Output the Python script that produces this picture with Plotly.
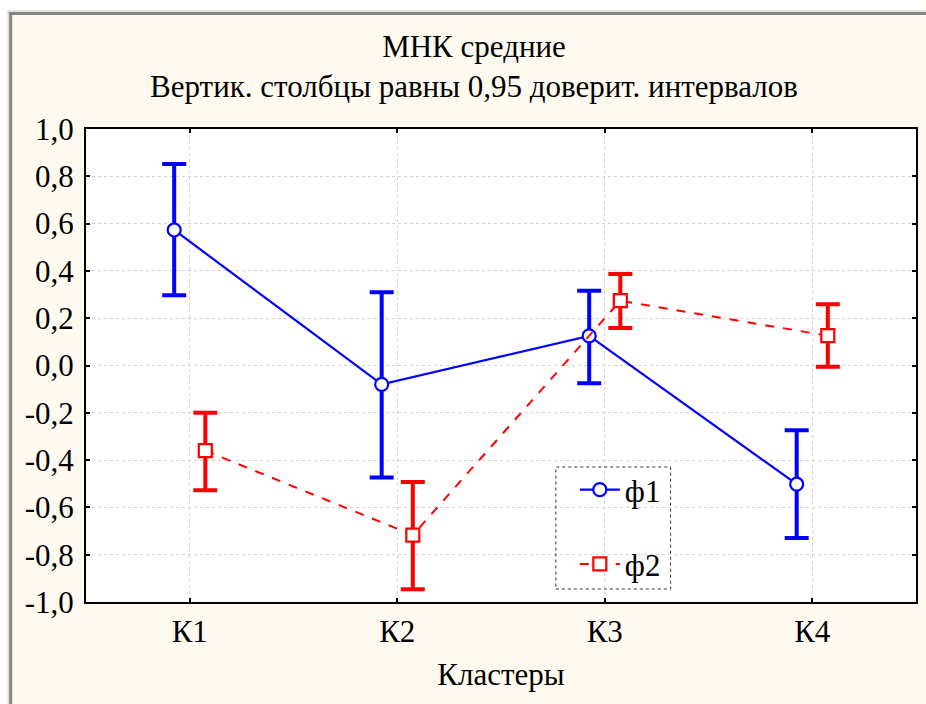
import plotly.graph_objects as go

# ---- data ----
categories = ["К1", "К2", "К3", "К4"]
series_names = ["ф1", "ф2"]

f1_mean = [0.573, -0.080, 0.125, -0.502]
f1_upper = [0.852, 0.310, 0.316, -0.274]
f1_lower = [0.297, -0.474, -0.075, -0.729]

f2_mean = [-0.360, -0.717, 0.274, 0.126]
f2_upper = [-0.200, -0.493, 0.387, 0.259]
f2_lower = [-0.527, -0.946, 0.159, -0.005]

y_tickvals = [-1.0, -0.8, -0.6, -0.4, -0.2, 0.0, 0.2, 0.4, 0.6, 0.8, 1.0]
y_ticktext = ["-1,0", "-0,8", "-0,6", "-0,4", "-0,2", "0,0", "0,2", "0,4", "0,6", "0,8", "1,0"]

title_lines = ["МНК средние", "Вертик. столбцы равны 0,95 доверит. интервалов"]
x_title = "Кластеры"

# ---- layout constants ----
W, H = 926, 704
ML, MR, MT, MB = 86, 8, 129, 102
PW, PH = W - ML - MR, H - MT - MB
OFFSET = 0.075
FONT = "'Liberation Serif', 'Times New Roman', 'DejaVu Serif', serif"
FS = 31
BLUE, RED = "#0000FF", "#FF0000"
CREAM = "#FFFAF0"


def px_x(px):
    return (px - ML) / PW


def px_y(py):
    return (H - MB - py) / PH


pos = list(range(1, len(categories) + 1))

fig = go.Figure()

fig.add_trace(go.Scatter(
    x=[p - OFFSET for p in pos], y=f1_mean, name=series_names[0],
    mode="lines+markers", legendgroup="a",
    line=dict(color=BLUE, width=2.2),
    marker=dict(symbol="circle", size=13, color="white", line=dict(color=BLUE, width=2.2)),
    error_y=dict(type="data", symmetric=False,
                 array=[u - m for u, m in zip(f1_upper, f1_mean)],
                 arrayminus=[m - l for m, l in zip(f1_mean, f1_lower)],
                 color=BLUE, thickness=4, width=12),
))

fig.add_trace(go.Scatter(
    x=[p + OFFSET for p in pos], y=f2_mean, name=series_names[1],
    mode="lines+markers", legendgroup="b",
    line=dict(color=RED, width=2, dash="dash"),
    marker=dict(symbol="square", size=13, color="white", line=dict(color=RED, width=2.2)),
    error_y=dict(type="data", symmetric=False,
                 array=[u - m for u, m in zip(f2_upper, f2_mean)],
                 arrayminus=[m - l for m, l in zip(f2_mean, f2_lower)],
                 color=RED, thickness=4, width=12),
))

axis_common = dict(
    showline=True, linecolor="black", linewidth=2, mirror="allticks",
    ticks="inside", ticklen=4, tickwidth=2, tickcolor="black",
    showgrid=True, gridcolor="#d2d2d2", gridwidth=1, griddash="dot",
    zeroline=False, tickfont=dict(family=FONT, size=FS, color="black"),
)

fig.update_xaxes(
    range=[0.5, 4.5], tickmode="array", tickvals=pos, ticktext=categories,
    title=dict(text=x_title, font=dict(family=FONT, size=FS, color="black"), standoff=15),
    ticklabelstandoff=1,
    **axis_common,
)
fig.update_yaxes(
    range=[-1.0, 1.0], tickmode="array", tickvals=y_tickvals, ticktext=y_ticktext,
    ticklabelstandoff=4,
    **axis_common,
)

shapes = [
    # white strips outside the window frame
    dict(type="rect", xref="paper", yref="paper", x0=px_x(0), x1=px_x(W), y0=px_y(10), y1=px_y(0),
         fillcolor="white", line=dict(width=0), layer="below"),
    dict(type="rect", xref="paper", yref="paper", x0=px_x(0), x1=px_x(7), y0=px_y(H), y1=px_y(0),
         fillcolor="white", line=dict(width=0), layer="below"),
    # frame lines
    dict(type="line", xref="paper", yref="paper", x0=px_x(7), x1=px_x(W + 5), y0=px_y(11), y1=px_y(11),
         line=dict(color="#cfcfcf", width=1)),
    dict(type="line", xref="paper", yref="paper", x0=px_x(8), x1=px_x(8), y0=px_y(11), y1=px_y(H + 5),
         line=dict(color="#cfcfcf", width=1)),
    dict(type="line", xref="paper", yref="paper", x0=px_x(9), x1=px_x(W + 5), y0=px_y(13.5), y1=px_y(13.5),
         line=dict(color="#858585", width=3)),
    dict(type="line", xref="paper", yref="paper", x0=px_x(10.5), x1=px_x(10.5), y0=px_y(12), y1=px_y(H + 5),
         line=dict(color="#858585", width=3)),
    # legend dotted box
    dict(type="rect", xref="paper", yref="paper", x0=px_x(557), x1=px_x(672), y0=px_y(589), y1=px_y(467),
         line=dict(color="#333333", width=1, dash="dot"), fillcolor="rgba(0,0,0,0)"),
]

fig.update_layout(
    width=W, height=H,
    margin=dict(l=ML, r=MR, t=MT, b=MB),
    paper_bgcolor=CREAM, plot_bgcolor="white",
    font=dict(family=FONT, size=FS, color="black"),
    title=dict(text="<br>".join(title_lines), x=474 / W, xref="container", xanchor="center",
               y=1 - 57 / H, yanchor="top", font=dict(family=FONT, size=FS, color="black")),
    showlegend=True,
    legend=dict(x=px_x(576), y=px_y(463), xanchor="left", yanchor="top",
                bgcolor="rgba(0,0,0,0)", borderwidth=0,
                traceorder="grouped", tracegroupgap=31,
                font=dict(family=FONT, size=FS, color="black"), itemwidth=40),
    shapes=shapes,
)

fig.write_html("out.html")
